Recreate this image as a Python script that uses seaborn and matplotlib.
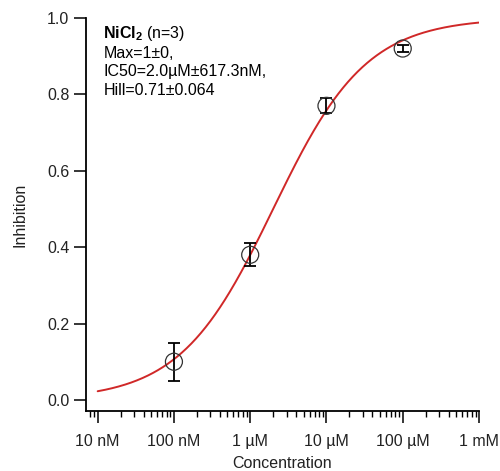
import numpy as np
import pandas as pd
import matplotlib
matplotlib.use("Agg")
import matplotlib.pyplot as plt
import seaborn as sns
from matplotlib.ticker import FixedLocator, FixedFormatter, LogLocator, NullFormatter

# Measured inhibition (mean ± SD, n=3)
conc_M = [1e-7, 1e-6, 1e-5, 1e-4]
inhibition = [0.10, 0.38, 0.77, 0.92]
inhibition_err = [0.05, 0.03, 0.02, 0.01]

# Hill fit parameters
fit_max = 1.0
fit_ic50 = 2.0e-6
fit_hill = 0.71

x_ticks = [1e-8, 1e-7, 1e-6, 1e-5, 1e-4, 1e-3]
x_tick_labels = ["10 nM", "100 nM", "1 µM", "10 µM", "100 µM", "1 mM"]
y_ticks = [0.0, 0.2, 0.4, 0.6, 0.8, 1.0]

sns.set_style("ticks")
plt.rcParams["font.family"] = ["Liberation Sans", "DejaVu Sans"]
plt.rcParams["mathtext.fontset"] = "custom"
plt.rcParams["mathtext.rm"] = "Liberation Sans"
plt.rcParams["mathtext.bf"] = "Liberation Sans:bold"

fig = plt.figure(figsize=(5.0, 4.71), dpi=100)
ax = fig.add_axes([0.172, 0.1274, 0.786, 0.8344])

# Fitted curve
xs = np.logspace(-8, -3, 400)
curve = pd.DataFrame({"conc": xs, "inh": fit_max / (1.0 + (fit_ic50 / xs) ** fit_hill)})
sns.lineplot(data=curve, x="conc", y="inh", ax=ax, color="#d02828", lw=1.4)

# Data points with error bars
ax.errorbar(conc_M, inhibition, yerr=inhibition_err, fmt="none", ecolor="black",
            elinewidth=1.3, capsize=4.2, capthick=1.3, zorder=3)
pts = pd.DataFrame({"conc": conc_M, "inh": inhibition})
sns.scatterplot(data=pts, x="conc", y="inh", ax=ax, s=150, facecolor="none",
                edgecolor="#333333", linewidth=0.9, zorder=4)

ax.set_xscale("log")
ax.set_xlim(10 ** -8.153, 1e-3)
ax.set_ylim(-0.029, 1.0)

ax.xaxis.set_major_locator(FixedLocator(x_ticks))
ax.xaxis.set_major_formatter(FixedFormatter(x_tick_labels))
ax.xaxis.set_minor_locator(LogLocator(base=10, subs=np.arange(2, 10)))
ax.xaxis.set_minor_formatter(NullFormatter())
ax.set_yticks(y_ticks)
ax.set_yticklabels([f"{v:.1f}" for v in y_ticks])

ax.tick_params(axis="both", which="major", length=8.5, width=1.1, labelsize=11.5,
               color="black", labelcolor="#222222")
ax.tick_params(axis="x", which="major", pad=8)
ax.tick_params(axis="x", which="minor", length=4.5, width=1.0, color="black")
ax.tick_params(axis="y", which="minor", left=False)

for side in ("top", "right"):
    ax.spines[side].set_visible(False)
for side in ("left", "bottom"):
    ax.spines[side].set_linewidth(1.3)
    ax.spines[side].set_color("black")

ax.set_xlabel("Concentration", fontsize=11.5, labelpad=5, color="#222222")
ax.set_ylabel("Inhibition", fontsize=11.5, labelpad=14, color="#222222")

# Fit summary
ax.text(0.044, 0.985, r"$\mathbf{NiCl_2}$ (n=3)", transform=ax.transAxes,
        fontsize=11.5, va="top", ha="left", color="black")
summary = ["Max=1±0,", "IC50=2.0µM±617.3nM,", "Hill=0.71±0.064"]
for i, line in enumerate(summary):
    ax.text(0.044, 0.93 - i * 0.048, line, transform=ax.transAxes,
            fontsize=11.5, va="top", ha="left", color="black")

fig.savefig("out.png", dpi=100)
